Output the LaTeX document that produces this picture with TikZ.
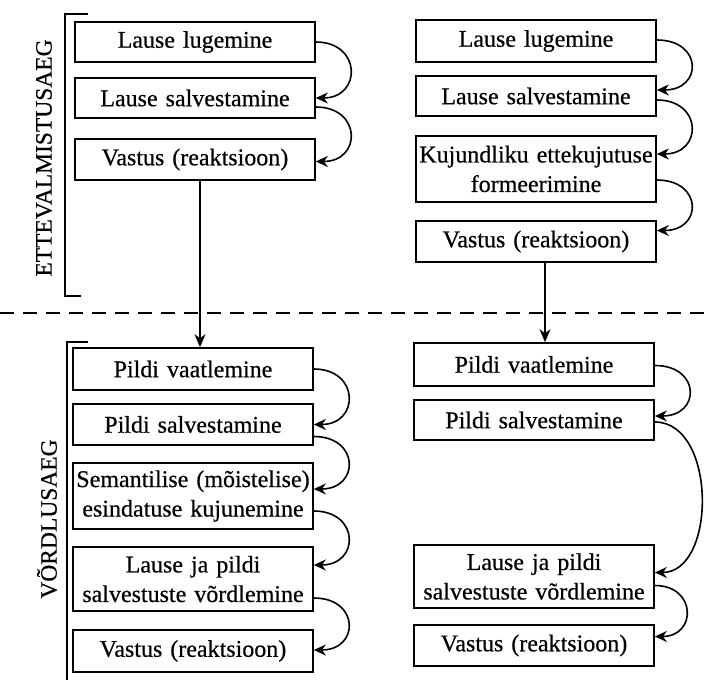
\documentclass[tikz,border=0pt]{standalone}
\usepackage{fontspec}
\setmainfont{Liberation Serif}[FakeBold=0.5]
\usetikzlibrary{arrows.meta,calc}
\tikzset{
  stepbox/.style={draw, line width=1.7pt, inner sep=0pt, minimum width=240pt, text width=240pt, align=center, font=\fontsize{24}{29.5}\selectfont},
  loop/.style={line width=1.6pt, -{Stealth[length=12pt,width=11pt]}},
  down/.style={line width=1.4pt, -{Stealth[length=13pt,width=11pt]}},
  brk/.style={line width=1.6pt},
  side/.style={font=\fontsize{23.5}{28}\selectfont, rotate=90}
}
\begin{document}
\begin{tikzpicture}[x=1pt,y=-1pt]
\useasboundingbox (0,0) rectangle (704,680);
% left upper
\node[stepbox, minimum height=40pt] (L1) at (195,42) {Lause lugemine};
\node[stepbox, minimum height=40pt] (L2) at (195,98) {Lause salvestamine};
\node[stepbox, minimum height=41pt] (L3) at (195,159.5) {Vastus (reaktsioon)};
% right upper
\node[stepbox, minimum height=42pt] (R1) at (536,41) {Lause lugemine};
\node[stepbox, minimum height=40pt] (R2) at (536,96) {Lause salvestamine};
\node[stepbox, minimum height=66pt] (R3) at (536,169) {Kujundliku ettekujutuse\\formeerimine};
\node[stepbox, minimum height=41pt] (R4) at (536,241.5) {Vastus (reaktsioon)};
% left lower
\node[stepbox, minimum height=42pt] (A1) at (193,369) {Pildi vaatlemine};
\node[stepbox, minimum height=41pt] (A2) at (193,424.5) {Pildi salvestamine};
\node[stepbox, minimum height=66pt] (A3) at (193,496) {Semantilise (mõistelise)\\esindatuse kujunemine};
\node[stepbox, minimum height=64pt] (A4) at (193,579) {Lause ja pildi\\salvestuste võrdlemine};
\node[stepbox, minimum height=42pt] (A5) at (193,651) {Vastus (reaktsioon)};
% right lower
\node[stepbox, minimum height=43pt] (B1) at (534,364.5) {Pildi vaatlemine};
\node[stepbox, minimum height=40pt] (B2) at (534,420) {Pildi salvestamine};
\node[stepbox, minimum height=63pt] (B3) at (534,576.5) {Lause ja pildi\\salvestuste võrdlemine};
\node[stepbox, minimum height=41pt] (B4) at (534,645.5) {Vastus (reaktsioon)};
% side labels
\node[side] (lab1) at (44,158) {ETTEVALMISTUSAEG};
\node[side] (lab2) at (47,519) {VÕRDLUSAEG};
% brackets
\coordinate (b1t) at (65,14);
\coordinate (b1b) at (65,296);
\draw[brk] ($(b1t)+(23,0)$) -- (b1t) -- (b1b) -- ($(b1b)+(16,0)$);
\coordinate (b2t) at (67,342);
\coordinate (b2b) at (67,680);
\draw[brk] ($(b2t)+(21,0)$) -- (b2t) -- (b2b);
% dashed separator
\coordinate (d1) at (0,313);
\coordinate (d2) at (704,313);
\draw[line width=1.6pt, dash pattern=on 14pt off 9pt] (d1) -- (d2);
% vertical arrows
\draw[down] ($(L3.south)+(5,0)$) -- ($(A1.north)+(7,0)$);
\draw[down] ($(R4.south)+(9,0)$) -- ($(B1.north)+(11,0)$);
% loops left upper
\draw[loop] ($(L1.east)+(0,0)$) .. controls +(46,0) and +(46,0) .. ($(L2.east)+(0,0)$);
\draw[loop] ($(L2.east)+(0,9)$) .. controls +(46,0) and +(46,0) .. ($(L3.east)+(0,2)$);
% loops right upper
\draw[loop] ($(R1.east)+(0,-1)$) .. controls +(46,0) and +(46,0) .. ($(R2.east)+(0,-6)$);
\draw[loop] ($(R2.east)+(0,4)$) .. controls +(46,0) and +(46,0) .. ($(R3.east)+(0,-15)$);
\draw[loop] ($(R3.east)+(0,11)$) .. controls +(46,0) and +(46,0) .. ($(R4.east)+(0,-11)$);
% loops left lower
\draw[loop] (A1.east) .. controls +(46,0) and +(46,0) .. (A2.east);
\draw[loop] ($(A2.east)+(0,12)$) .. controls +(46,0) and +(46,0) .. ($(A3.east)+(0,-7)$);
\draw[loop] ($(A3.east)+(0,15)$) .. controls +(46,0) and +(46,0) .. ($(A4.east)+(0,-14)$);
\draw[loop] ($(A4.east)+(0,19)$) .. controls +(46,0) and +(46,0) .. ($(A5.east)+(0,-1)$);
% loops right lower
\draw[loop] ($(B1.east)+(0,1)$) .. controls +(46,0) and +(46,0) .. ($(B2.east)+(0,-4)$);
\draw[loop] ($(B2.east)+(0,2)$) .. controls +(62,0) and +(62,0) .. ($(B3.east)+(0,-4)$);
\draw[loop] ($(B3.east)+(0,9)$) .. controls +(42,0) and +(42,0) .. ($(B4.east)+(0,-9)$);
\end{tikzpicture}
\end{document}
